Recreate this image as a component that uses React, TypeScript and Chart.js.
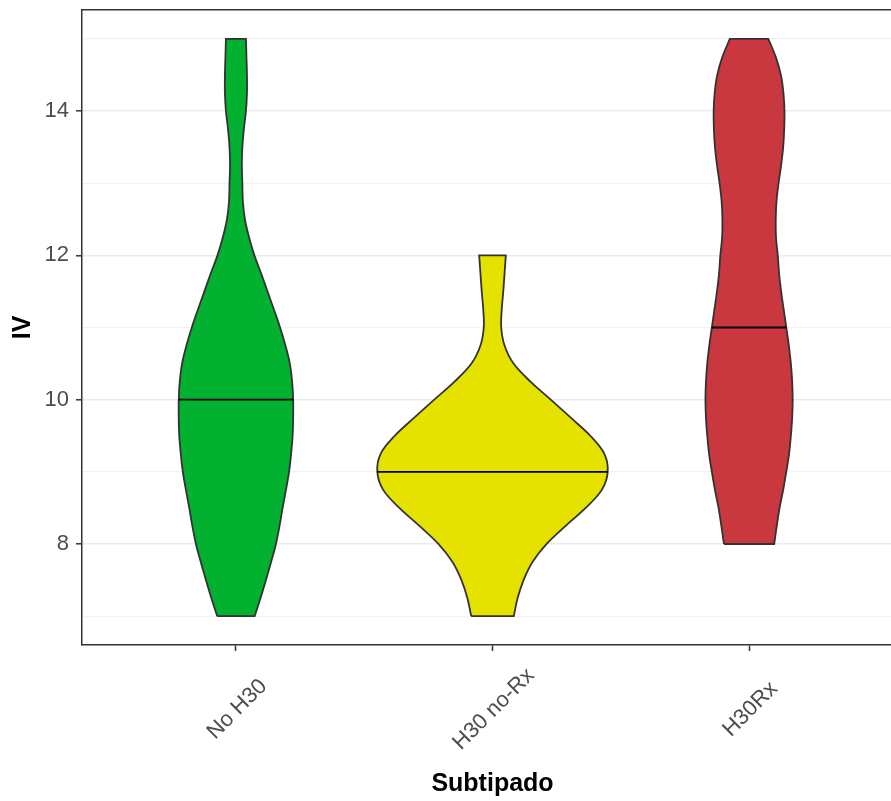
import React, { useEffect, useRef } from 'react';
import { Chart, registerables } from 'chart.js';

Chart.register(...registerables);

const FONT = '"Liberation Sans", Arial, Helvetica, sans-serif';

const categories = ['No H30', 'H30 no-Rx', 'H30Rx'];
const medians = [10, 9, 11];
const fillColors = ['#02b12f', '#e6e200', '#c9373f'];
const yTickLabels = [8, 10, 12, 14];

// violin outlines: half-width (in category units) at each IV level
const noH30Levels = [7, 7.25, 7.5, 7.75, 8, 8.25, 8.5, 8.75, 9, 9.25, 9.5, 9.75, 10, 10.25, 10.5, 10.75, 11, 11.25, 11.5, 11.75, 12, 12.25, 12.5, 12.75, 13, 13.25, 13.5, 13.75, 14, 14.25, 14.5, 14.75, 15];
const noH30HalfWidths = [0.073, 0.096, 0.117, 0.137, 0.156, 0.170, 0.182, 0.195, 0.207, 0.215, 0.221, 0.223, 0.223, 0.219, 0.210, 0.193, 0.172, 0.148, 0.123, 0.098, 0.072, 0.051, 0.035, 0.027, 0.025, 0.023, 0.025, 0.031, 0.039, 0.043, 0.043, 0.041, 0.039];

const h30NoRxLevels = [7, 7.25, 7.5, 7.75, 8, 8.25, 8.5, 8.75, 9, 9.25, 9.5, 9.75, 10, 10.25, 10.5, 10.75, 11, 11.25, 11.5, 11.75, 12];
const h30NoRxHalfWidths = [0.083, 0.098, 0.121, 0.156, 0.211, 0.285, 0.363, 0.426, 0.449, 0.436, 0.381, 0.305, 0.227, 0.148, 0.082, 0.047, 0.034, 0.036, 0.042, 0.047, 0.052];

const h30RxLevels = [8, 8.25, 8.5, 8.75, 9, 9.25, 9.5, 9.75, 10, 10.25, 10.5, 10.75, 11, 11.25, 11.5, 11.75, 12, 12.25, 12.5, 12.75, 13, 13.25, 13.5, 13.75, 14, 14.25, 14.5, 14.75, 15];
const h30RxHalfWidths = [0.098, 0.108, 0.119, 0.133, 0.145, 0.156, 0.163, 0.168, 0.170, 0.168, 0.163, 0.155, 0.145, 0.135, 0.125, 0.117, 0.112, 0.105, 0.104, 0.107, 0.115, 0.125, 0.133, 0.137, 0.138, 0.134, 0.124, 0.104, 0.075];

const groupLevels = [noH30Levels, h30NoRxLevels, h30RxLevels];
const groupHalfWidths = [noH30HalfWidths, h30NoRxHalfWidths, h30RxHalfWidths];

// closed outline; corner points are doubled so the smoothed curve keeps sharp flat ends
function violinPoints(center: number, levels: number[], half: number[]) {
  const n = levels.length;
  const pts: { x: number; y: number }[] = [];
  pts.push({ x: center - half[0], y: levels[0] });
  for (let i = 0; i < n; i++) pts.push({ x: center - half[i], y: levels[i] });
  pts.push({ x: center - half[n - 1], y: levels[n - 1] });
  pts.push({ x: center + half[n - 1], y: levels[n - 1] });
  for (let i = n - 1; i >= 0; i--) pts.push({ x: center + half[i], y: levels[i] });
  pts.push({ x: center + half[0], y: levels[0] });
  pts.push({ x: center - half[0], y: levels[0] });
  return pts;
}

const LABEL_SIZE = 22;

const xLabelPlugin = {
  id: 'xLabels',
  afterDraw(chart: any) {
    const xs = chart.scales.x;
    const ctx = chart.ctx;
    ctx.save();
    ctx.font = `${LABEL_SIZE}px ${FONT}`;
    ctx.fillStyle = '#4d4d4d';
    ctx.textAlign = 'center';
    ctx.textBaseline = 'alphabetic';
    categories.forEach((label, i) => {
      const px = xs.getPixelForValue(i + 1);
      ctx.save();
      ctx.translate(px, xs.top + 63);
      ctx.rotate(-Math.PI / 4);
      ctx.fillText(label, 0, LABEL_SIZE * 0.36);
      ctx.restore();
    });
    ctx.restore();
  },
};

export default function App() {
  const ref = useRef<HTMLCanvasElement | null>(null);

  useEffect(() => {
    if (!ref.current) return;
    const violinSets = categories.map((name, i) => ({
      label: name,
      data: violinPoints(i + 1, groupLevels[i], groupHalfWidths[i]),
      backgroundColor: fillColors[i],
      borderColor: '#333333',
      borderWidth: 1.8,
      fill: 'shape',
      pointRadius: 0,
      tension: 0.35,
      order: 2,
    }));
    const medianSets = categories.map((name, i) => {
      const hw = groupHalfWidths[i][groupLevels[i].indexOf(medians[i])];
      return {
        label: name + ' median',
        data: [
          { x: i + 1 - hw, y: medians[i] },
          { x: i + 1 + hw, y: medians[i] },
        ],
        borderColor: '#000000',
        borderWidth: 1.8,
        fill: false,
        pointRadius: 0,
        order: 1,
      };
    });

    const chart = new Chart(ref.current, {
      type: 'line',
      data: { datasets: [...violinSets, ...medianSets] as any },
      options: {
        responsive: false,
        animation: false,
        devicePixelRatio: 1,
        layout: { padding: { top: 10, right: 8, bottom: 0, left: 0 } },
        plugins: {
          legend: { display: false },
          tooltip: { enabled: false },
        },
        scales: {
          x: {
            type: 'linear',
            position: 'bottom',
            min: 0.4,
            max: 3.6,
            afterBuildTicks: (s: any) => {
              s.ticks = categories.map((_, i) => ({ value: i + 1 }));
            },
            afterFit: (s: any) => {
              s.height = 156;
              s.paddingLeft = 0;
              s.paddingRight = 0;
            },
            ticks: { display: false },
            grid: {
              drawOnChartArea: false,
              drawTicks: true,
              tickLength: 6,
              tickColor: '#333333',
              tickWidth: 1.5,
            },
            border: { color: '#333333', width: 1.5 },
            title: {
              display: true,
              text: 'Subtipado',
              color: '#000000',
              font: { family: FONT, size: 25, weight: 'bold' },
              padding: { top: 0, bottom: 2 },
            },
          },
          x2: {
            type: 'linear',
            position: 'top',
            min: 0.4,
            max: 3.6,
            afterFit: (s: any) => {
              s.height = 0;
              s.paddingLeft = 0;
              s.paddingRight = 0;
            },
            ticks: { display: false },
            grid: { drawOnChartArea: false, drawTicks: false },
            border: { color: '#333333', width: 1.5 },
          },
          y: {
            type: 'linear',
            min: 6.6,
            max: 15.4,
            afterFit: (s: any) => {
              s.width = 82;
              s.paddingTop = 0;
              s.paddingBottom = 0;
            },
            ticks: {
              stepSize: 1,
              includeBounds: false,
              color: '#4d4d4d',
              font: { family: FONT, size: LABEL_SIZE },
              padding: 7,
              callback: (v: any) => (yTickLabels.includes(Number(v)) ? String(v) : ''),
            },
            grid: {
              color: (c: any) => (yTickLabels.includes(c.tick?.value) ? '#ebebeb' : '#f2f2f2'),
              lineWidth: (c: any) => (yTickLabels.includes(c.tick?.value) ? 1.6 : 1.2),
              tickColor: (c: any) => (yTickLabels.includes(c.tick?.value) ? '#333333' : 'rgba(0,0,0,0)'),
              tickLength: 6,
              tickWidth: 1.5,
            },
            border: { color: '#333333', width: 1.5 },
            title: {
              display: true,
              text: 'IV',
              color: '#000000',
              font: { family: FONT, size: 25, weight: 'bold' },
              padding: { top: 8, bottom: 0 },
            },
          },
        },
      } as any,
      plugins: [xLabelPlugin],
    });
    return () => chart.destroy();
  }, []);

  return (
    <div
      style={{
        position: 'absolute',
        left: 0,
        top: 0,
        width: 891,
        height: 801,
        overflow: 'hidden',
        background: '#ffffff',
      }}
    >
      <canvas ref={ref} width={911} height={801} style={{ display: 'block', width: 911, height: 801 }} />
    </div>
  );
}
